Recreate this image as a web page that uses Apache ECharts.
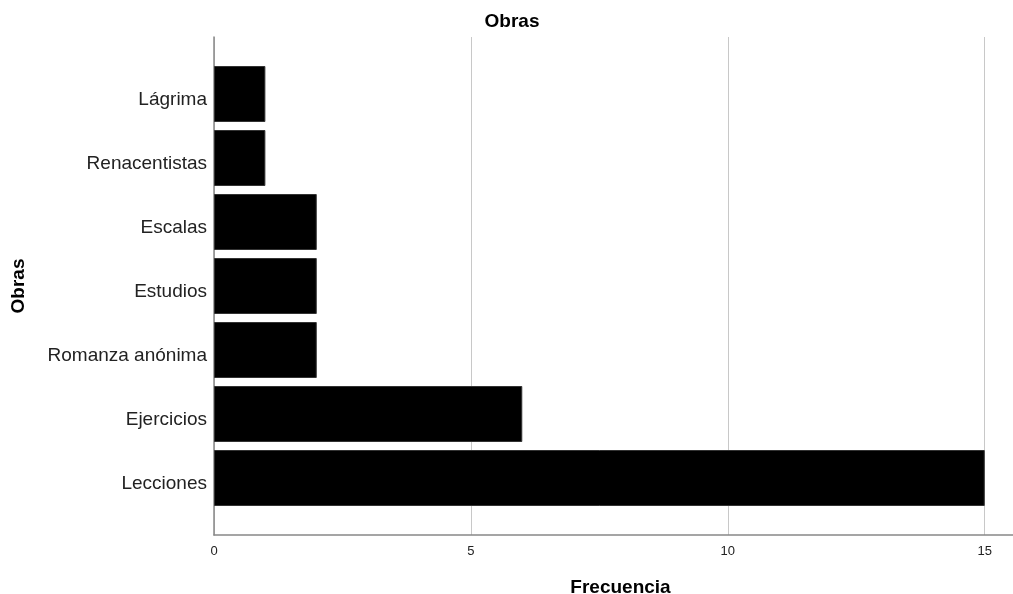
<!DOCTYPE html>
<html><head><meta charset="utf-8">
<script src="https://cdn.jsdelivr.net/npm/echarts@6/dist/echarts.min.js"></script>
<style>html,body{margin:0;padding:0;background:#fff}#c{width:1013px;height:594px}</style>
</head><body><div id="c"></div>
<script>
const categories = ['Lágrima','Renacentistas','Escalas','Estudios','Romanza anónima','Ejercicios','Lecciones'];
const values = [1,1,2,2,2,6,15];
const xTicks = [0,5,10,15];

const chart = echarts.init(document.getElementById('c'), null, {renderer:'canvas'});
const font = 'Arial, "Liberation Sans", sans-serif';
const XMAX = 15.55;
chart.setOption({
  animation:false,
  backgroundColor:'#fff',
  title:{text:'Obras', left:507, top:7, textAlign:'center',
    textStyle:{fontFamily:font, fontSize:19, fontWeight:'bold', color:'#000'}},
  grid:[
    {left:214, right:0, top:37, bottom:59, containLabel:false, outerBoundsMode:'none'},
    {left:214, right:0, top:62, bottom:84, containLabel:false, outerBoundsMode:'none'}
  ],
  xAxis:[
    {gridIndex:0, type:'value', min:0, max:XMAX, interval:5,
     axisLine:{show:true, lineStyle:{color:'#888', width:1.5}},
     axisTick:{show:false},
     axisLabel:{fontFamily:font, fontSize:13, color:'#222', margin:10,
       customValues:xTicks, formatter:v=>String(v)},
     splitLine:{show:true, lineStyle:{color:'#c8c8c8', width:1}},
     name:'Frecuencia', nameLocation:'middle', nameGap:43,
     nameTextStyle:{fontFamily:font, fontSize:19, fontWeight:'bold', color:'#000', padding:[0,0,0,14]}},
    {gridIndex:1, type:'value', min:0, max:XMAX, show:false}
  ],
  yAxis:[
    {gridIndex:0, type:'value', min:0, max:1,
     axisLine:{show:true, lineStyle:{color:'#888', width:1.5}},
     axisTick:{show:false}, axisLabel:{show:false}, splitLine:{show:false},
     name:'Obras', nameLocation:'middle', nameGap:186, nameRotate:90,
     nameTextStyle:{fontFamily:font, fontSize:19, fontWeight:'bold', color:'#000'}},
    {gridIndex:1, type:'category', data:categories, inverse:true,
     axisLine:{show:false}, axisTick:{show:false}, splitLine:{show:false},
     axisLabel:{margin:7, formatter:v=>'{a|'+v+'}',
       rich:{a:{fontFamily:font, fontSize:19, color:'#222', padding:[12,0,0,0]}}}}
  ],
  series:[{
    type:'bar', xAxisIndex:1, yAxisIndex:1, data:values, barWidth:56,
    itemStyle:{color:'#000', borderColor:'#333', borderWidth:1}
  }]
});
</script></body></html>
